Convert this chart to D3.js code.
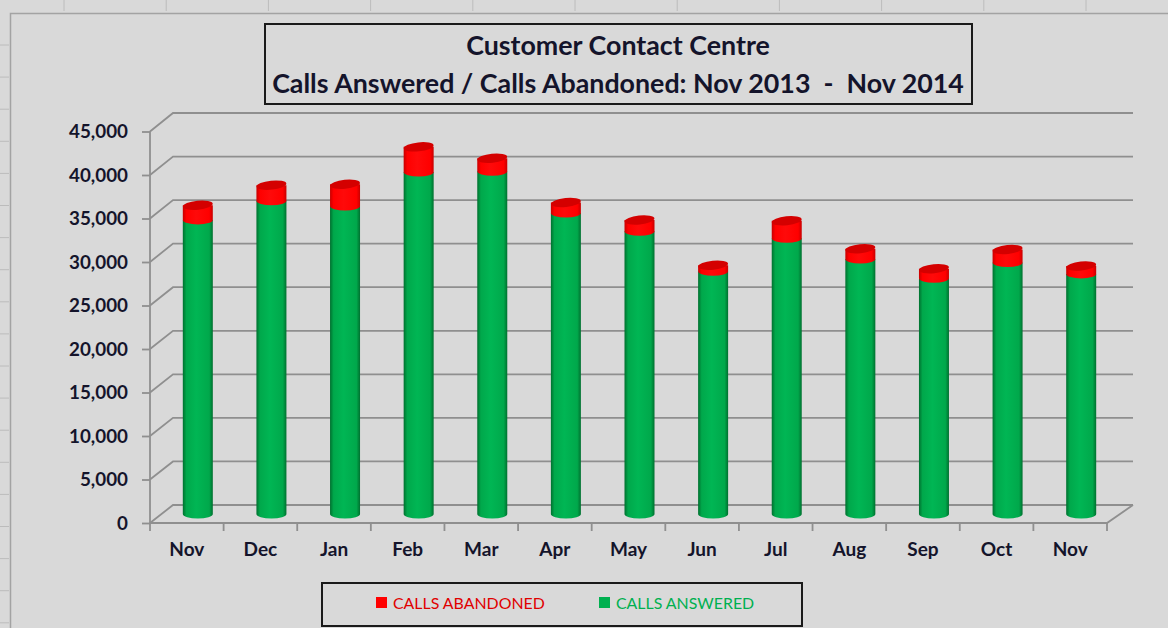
<!DOCTYPE html>
<html><head><meta charset="utf-8">
<script src="https://cdn.jsdelivr.net/npm/d3@7"></script>
<style>body{margin:0;background:#d9d9d9;} svg{display:block;}</style>
</head><body>
<svg id="c" width="1168" height="628"></svg>
<script>
// ---- data ----
const months = ["Nov","Dec","Jan","Feb","Mar","Apr","May","Jun","Jul","Aug","Sep","Oct","Nov"];
const answered  = [33800, 36000, 35400, 39300, 39400, 34600, 32500, 27900, 31700, 29300, 27100, 28900, 27600];
const abandoned = [ 1700,  1800,  2500,  2900,  1500,  1200,  1300,   700,  2000,  1200,  1100,  1500,   900];
const yTicks = [0, 5000, 10000, 15000, 20000, 25000, 30000, 35000, 40000, 45000];
const titleLines = ["Customer Contact Centre", "Calls Answered / Calls Abandoned: Nov 2013  -  Nov 2014"];
const legendLabels = ["CALLS ABANDONED", "CALLS ANSWERED"];
const seriesColors = ["#ff0000", "#00b050"];
const legendTextColors = ["#e00000", "#00b050"];

const FONT = "Lato, 'Open Sans', sans-serif";
const TXT = "#14142b";
const svg = d3.select("#c");

// fit font-size so that text width equals target
function fitText(sel, target) {
  const n = sel.node();
  const fs = parseFloat(sel.attr("font-size"));
  const w = n.getComputedTextLength();
  const s = fs * target / w;
  sel.attr("font-size", s);
  return s;
}

// ---- background & spreadsheet frame ----
svg.append("rect").attr("width", 1168).attr("height", 628).attr("fill", "#d9d9d9");
const stubsX = d3.range(64, 1168, 102.2);
svg.selectAll(".sx").data(stubsX).join("line")
  .attr("x1", d => d).attr("x2", d => d).attr("y1", 0).attr("y2", 11)
  .attr("stroke", "#bcbcbc").attr("stroke-width", 1);
const stubsY = d3.range(45, 628, 32.1);
svg.selectAll(".sy").data(stubsY).join("line")
  .attr("x1", 0).attr("x2", 9).attr("y1", d => d).attr("y2", d => d)
  .attr("stroke", "#bcbcbc").attr("stroke-width", 1);
svg.append("path").attr("d", "M10.5,628 L10.5,13.5 L1168,13.5")
  .attr("fill", "none").attr("stroke", "#a3a3a3").attr("stroke-width", 1.5);

// ---- scales ----
const x = d3.scaleBand().domain(d3.range(months.length)).range([150, 1107]);
const yFront = d3.scaleLinear().domain([0, 45000]).range([523, 131.5]);
const yBack  = d3.scaleLinear().domain([0, 45000]).range([505, 113]);
const yMid   = d3.scaleLinear().domain([0, 45000]).range([514, 122.5]);
const DX = 23; // depth offset
const backRight = 1133;

// ---- gridlines (back wall) ----
const grid = svg.append("g").attr("stroke", "#8f8f8f").attr("stroke-width", 1.8).attr("fill", "none");
grid.selectAll("path").data(yTicks).join("path")
  .attr("d", d => `M150,${yFront(d)} L${150 + DX},${yBack(d)} L${backRight},${yBack(d)}`);
// floor front edge & right side
grid.append("path").attr("d", `M150,${yFront(0)} L${x.range()[1]},${yFront(0)} L${backRight},${yBack(0)}`);

// ---- y axis (front) ----
const yAxis = svg.append("g").attr("transform", "translate(150,0)")
  .call(d3.axisLeft(yFront).tickValues(yTicks).tickSize(8).tickPadding(14).tickFormat(d3.format(",")));
yAxis.selectAll("path,line").attr("stroke", "#8f8f8f").attr("stroke-width", 1.8);
yAxis.select(".domain").attr("d", `M0,${yFront(45000)}V${yFront(0)}`);
const yl = yAxis.selectAll("text").attr("font-family", FONT).attr("font-weight", "bold")
  .attr("font-size", 16).attr("fill", TXT);
const ys = fitText(yAxis.selectAll("text").filter(d => d === 45000), 59);
yl.attr("font-size", ys);

// ---- x axis ----
const catTicks = d3.range(months.length + 1).map(i => 150 + i * x.bandwidth());
svg.append("g").selectAll("line").data(catTicks).join("line")
  .attr("x1", d => d).attr("x2", d => d).attr("y1", yFront(0)).attr("y2", yFront(0) + 8)
  .attr("stroke", "#8f8f8f").attr("stroke-width", 1.8);
const xAxis = svg.append("g").attr("transform", `translate(0,${yFront(0)})`)
  .call(d3.axisBottom(x).tickSize(0).tickPadding(20).tickFormat(i => months[i]));
xAxis.select(".domain").remove();
const xl = xAxis.selectAll("text").attr("font-family", FONT).attr("font-weight", "bold")
  .attr("font-size", 16).attr("fill", TXT);
const xs = fitText(xAxis.selectAll("text").filter(i => i === 0), 35);
xl.attr("font-size", xs);

// ---- gradients ----
const defs = svg.append("defs");
function grad(id, edge, mid, center) {
  const g = defs.append("linearGradient").attr("id", id).attr("x1", 0).attr("x2", 1).attr("y1", 0).attr("y2", 0);
  [[0, edge], [0.12, mid], [0.45, center], [0.88, mid], [1, edge]].forEach(([o, c]) =>
    g.append("stop").attr("offset", o).attr("stop-color", c));
}
grad("gG", "#00702f", "#00a84b", "#00b654");
grad("gR", "#c80000", "#ff0000", "#ff0a0a");

// ---- cylinders ----
const rx = 15, ry = 4.5, shift = 11;
const bars = svg.append("g");
months.forEach((m, i) => {
  const cx = x(i) + x.bandwidth() / 2 + shift;
  const y0 = yMid(0), y1 = yMid(answered[i]), y2 = yMid(answered[i] + abandoned[i]);
  // green body
  bars.append("path")
    .attr("d", `M${cx - rx},${y1} L${cx - rx},${y0} A${rx},${ry} 0 0 0 ${cx + rx},${y0} L${cx + rx},${y1} Z`)
    .attr("fill", "url(#gG)");
  // red body
  bars.append("path")
    .attr("d", `M${cx - rx},${y2} L${cx - rx},${y1} A${rx},${ry} 0 0 0 ${cx + rx},${y1} L${cx + rx},${y2} Z`)
    .attr("fill", "url(#gR)");
  // red top cap
  bars.append("ellipse").attr("cx", cx).attr("cy", y2).attr("rx", rx).attr("ry", ry)
    .attr("fill", "#d40000").attr("transform", `rotate(-6,${cx},${y2})`);
});

// ---- title ----
svg.append("rect").attr("x", 265).attr("y", 24).attr("width", 707).attr("height", 80)
  .attr("fill", "#d9d9d9").attr("stroke", "#1a1a1a").attr("stroke-width", 2);
const t2 = svg.append("text").attr("x", 618).attr("y", 93).attr("text-anchor", "middle")
  .attr("font-family", FONT).attr("font-weight", "bold").attr("font-size", 24).attr("fill", TXT)
  .text(titleLines[1]).style("white-space", "pre");
const ts = fitText(t2, 692);
svg.append("text").attr("x", 618).attr("y", 55).attr("text-anchor", "middle")
  .attr("font-family", FONT).attr("font-weight", "bold").attr("font-size", ts).attr("fill", TXT)
  .text(titleLines[0]);

// ---- legend ----
svg.append("rect").attr("x", 322).attr("y", 583).attr("width", 480).attr("height", 43)
  .attr("fill", "#d9d9d9").attr("stroke", "#1a1a1a").attr("stroke-width", 2);
const legX = [376, 599];
const lg = svg.append("g").selectAll("g").data(legendLabels).join("g")
  .attr("transform", (d, i) => `translate(${legX[i]},0)`);
lg.append("rect").attr("x", 0).attr("y", 597).attr("width", 11).attr("height", 11)
  .attr("fill", (d, i) => seriesColors[i]);
const lt = lg.append("text").attr("x", 17).attr("y", 609).attr("font-family", FONT)
  .attr("font-size", 18).attr("fill", (d, i) => legendTextColors[i]).text(d => d);
const lsz = fitText(lt.filter((d, i) => i === 0), 152);
lt.attr("font-size", lsz);
</script>
</body></html>
